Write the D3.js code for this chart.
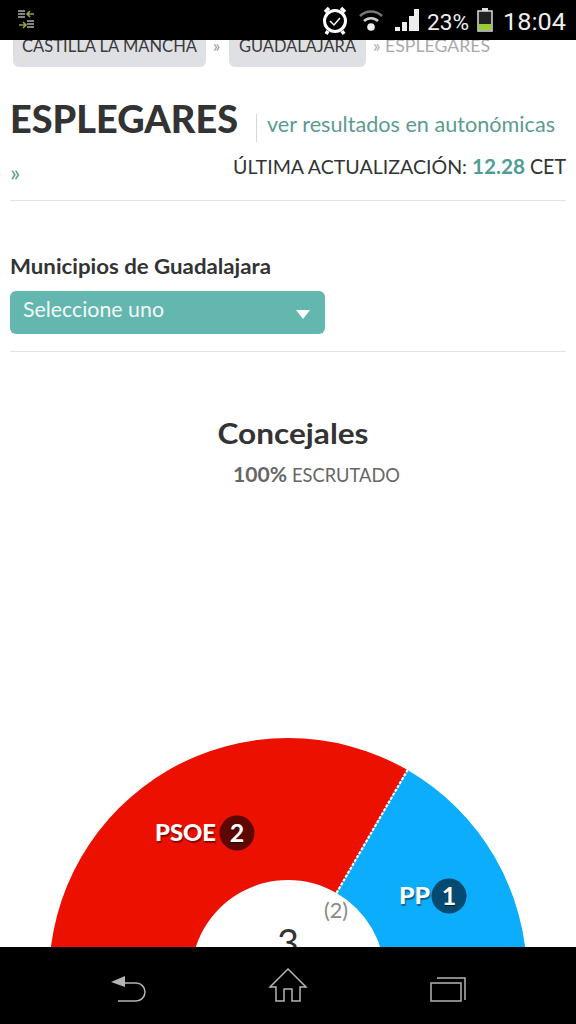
<!DOCTYPE html>
<html><head><meta charset="utf-8">
<script src="https://cdn.jsdelivr.net/npm/d3@7/dist/d3.min.js"></script>
<style>
html,body{margin:0;padding:0;background:#fff;overflow:hidden}
svg{display:block}
text{font-family:"Lato","Noto Sans",sans-serif}
</style></head><body>
<div id="c"></div>
<script>
const parties = ["PSOE","PP"];
const seats = [2,1];
const colors = ["#ec1000","#0cadfd"];
const badgeColors = ["#5e0700","#054a70"];
const totalSeats = "3";
const previous = "(2)";
const crumbs = ["CASTILLA LA MANCHA","GUADALAJARA"];

const svg = d3.select("#c").append("svg").attr("width",576).attr("height",1024);
function T(x,y,s,size,fill,weight,len,anchor,parent){
  const t=(parent||svg).append("text").attr("x",x).attr("y",y).attr("font-size",size).attr("fill",fill)
    .attr("font-weight",weight||400).attr("text-anchor",anchor||"start").text(s);
  if(len) t.attr("textLength",len).attr("lengthAdjust","spacingAndGlyphs");
  return t;
}
// breadcrumbs
svg.append("rect").attr("x",13).attr("y",30).attr("width",193).attr("height",37).attr("rx",6).attr("fill","#dfe0e3");
svg.append("rect").attr("x",229).attr("y",30).attr("width",137).attr("height",37).attr("rx",6).attr("fill","#dfe0e3");
T(22,52,crumbs[0],18,"#3a3a3a",400,175);
T(213,52,"»",17,"#999");
T(239,52,crumbs[1],18,"#3a3a3a",400,117);
T(373,52,"» ESPLEGARES",18,"#aaa",400,117);
// heading
T(10,132.5,"ESPLEGARES",37,"#333",900,228);
svg.append("line").attr("x1",256.5).attr("x2",256.5).attr("y1",114).attr("y2",142).attr("stroke","#d8d8d8");
T(267,132,"ver resultados en autonómicas",21.5,"#5b9b92",400,288);
T(10,181,"»",24,"#5b9b92");
T(233,174,"ÚLTIMA ACTUALIZACIÓN:",20,"#333",400,234);
T(472,174,"12.28",21,"#4f9d93",700,53);
T(530,174,"CET",21,"#333",400,36);
svg.append("line").attr("x1",10).attr("x2",566).attr("y1",200.5).attr("y2",200.5).attr("stroke","#e4e4e4");
// select
T(10,274,"Municipios de Guadalajara",20,"#333",700,261);
svg.append("rect").attr("x",10).attr("y",291).attr("width",315).attr("height",43).attr("rx",6).attr("fill","#64b7ae");
T(23,317,"Seleccione uno",21,"#f2f8f7",400,141);
svg.append("path").attr("d",d3.line()([[296,310],[310,310],[303,319]])+"Z").attr("fill","#fff");
svg.append("line").attr("x1",10).attr("x2",566).attr("y1",351.5).attr("y2",351.5).attr("stroke","#e4e4e4");
// titles
T(293,444,"Concejales",29,"#333",700,151,"middle");
T(233,482,"100%",21,"#666",700,54);
T(292,482,"ESCRUTADO",20,"#666",400,108);

// chart
const cx=288, cy=977, R=239, r=97;
const pie=d3.pie().sort(null).startAngle(-Math.PI/2).endAngle(Math.PI/2);
const arc=d3.arc().innerRadius(r).outerRadius(R);
const arcs=pie(seats);
const g=svg.append("g").attr("transform",`translate(${cx},${cy})`);
g.selectAll("path.s").data(arcs).join("path").attr("class","s").attr("d",arc).attr("fill",(d,i)=>colors[i]);
// dotted divider
const a=arcs[0].endAngle;
g.append("line").attr("x1",r*Math.sin(a)).attr("y1",-r*Math.cos(a)).attr("x2",R*Math.sin(a)).attr("y2",-R*Math.cos(a))
  .attr("stroke","#fff").attr("stroke-width",2.2).attr("stroke-dasharray","3 1.5");
// labels
const lab=[[237,833,216],[449,896,430]];
parties.forEach((p,i)=>{
  const [bx,by,tx]=lab[i];
  svg.append("circle").attr("cx",bx).attr("cy",by).attr("r",17.5).attr("fill",badgeColors[i]);
  T(bx,by+9,seats[i],25,"#fff",700,null,"middle").style("text-shadow","0 1px 1px rgba(0,0,0,.5)");
  T(tx,by+8,p,23,"#fff",900,i?31:61,"end").style("text-shadow","1px 2px 1px rgba(0,0,0,.45)");
});
// centre
T(336,918,previous,22,"#888",400,24,"middle");
T(288,957,totalSeats,38,"#333",400,null,"middle");

// status bar
svg.append("rect").attr("width",576).attr("height",40).attr("fill","#000");
const ic=svg.append("g");
ic.append("path").attr("d","M18 11h7M18 14h7M18 17h7M27 21h7M27 24h7M27 27h7").attr("stroke","#b0b0b0").attr("stroke-width",1.6);
ic.append("path").attr("d","M34 14h-7m3-3l-3 3 3 3M19 25h7m-3-3l3 3-3 3").attr("stroke","#8fa53a").attr("stroke-width",1.6).attr("fill","none");
ic.append("circle").attr("cx",335).attr("cy",21).attr("r",10.5).attr("fill","none").attr("stroke","#fff").attr("stroke-width",3);
ic.append("path").attr("d","M330 21l4 4 6-7").attr("fill","none").attr("stroke","#fff").attr("stroke-width",1.5);
ic.append("path").attr("d","M325 12l4-4M345 12l-4-4M328 31l-2 3M342 31l2 3").attr("stroke","#fff").attr("stroke-width",3.5);
ic.append("circle").attr("cx",371).attr("cy",27).attr("r",3.8).attr("fill","#eee");
ic.append("path").attr("d","M360 16a16 16 0 0 1 22 0").attr("fill","none").attr("stroke","#777").attr("stroke-width",2.5);
ic.append("path").attr("d","M364 21a10 10 0 0 1 14 0").attr("fill","none").attr("stroke","#ccc").attr("stroke-width",2.5);
[[395,27],[402,22],[409,16],[414,9]].forEach(b=>ic.append("rect").attr("x",b[0]).attr("y",b[1]).attr("width",5).attr("height",31-b[1]).attr("fill","#eee"));
T(427,30,"23%",22,"#eee",400,42).style("font-family","Roboto");
ic.append("rect").attr("x",478).attr("y",11).attr("width",14).attr("height",20).attr("fill","#222").attr("stroke","#ddd").attr("stroke-width",1.5);
ic.append("rect").attr("x",482).attr("y",8).attr("width",6).attr("height",3).attr("fill","#ddd");
ic.append("rect").attr("x",479).attr("y",24).attr("width",12).attr("height",6).attr("fill","#9c3");
T(503,30,"18:04",24,"#eee",400,63).style("font-family","Roboto");

// nav bar
svg.append("rect").attr("y",947).attr("width",576).attr("height",77).attr("fill","#000");
const nav=svg.append("g").attr("fill","none").attr("stroke","#b5b5b5").attr("stroke-width",1.5);
nav.append("path").attr("d","M123 983h13a9 9 0 0 1 0 18h-18");
nav.append("path").attr("d","M111 982l14-6v11z").attr("fill","#b5b5b5").attr("stroke","none");
nav.append("path").attr("d","M288 969l18 18h-6v14h-8v-12h-8v12h-8v-14h-6z");
nav.append("rect").attr("x",431).attr("y",983).attr("width",30).attr("height",18);
nav.append("path").attr("d","M437 978h28v22");
</script>
</body></html>
